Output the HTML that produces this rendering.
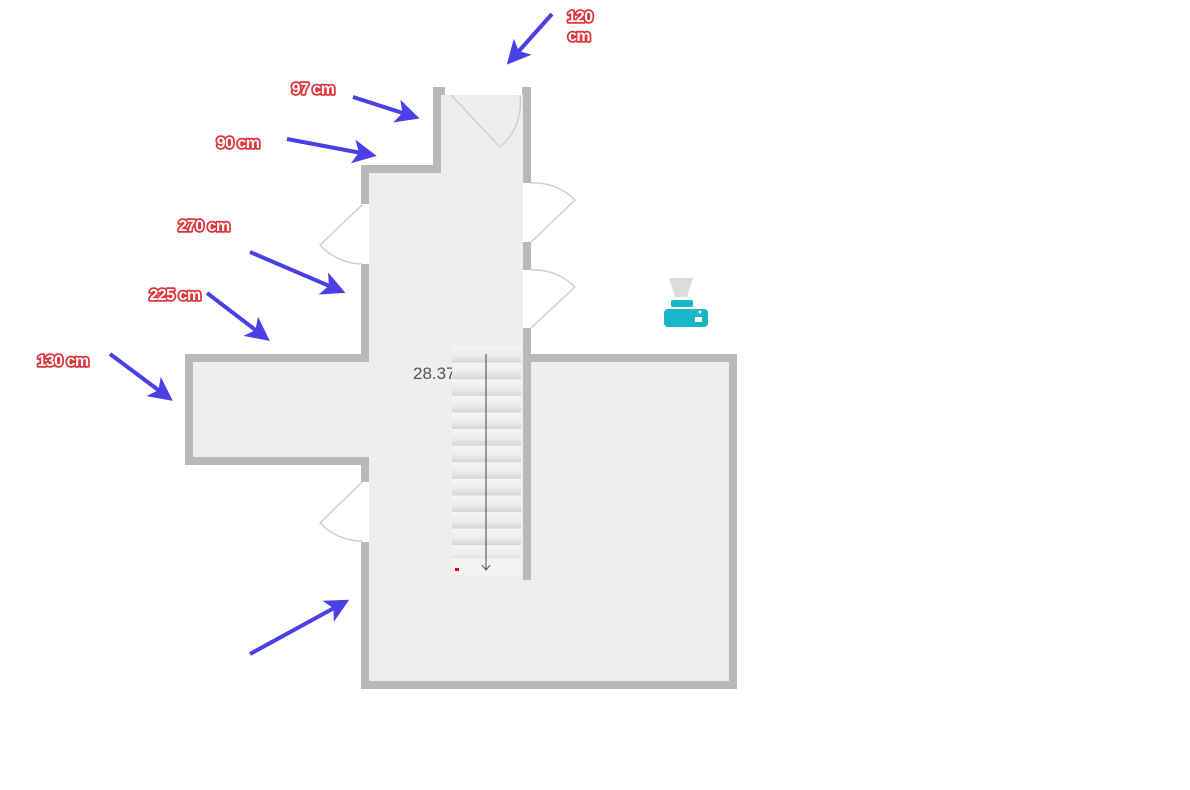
<!DOCTYPE html>
<html><head><meta charset="utf-8"><style>
html,body{margin:0;padding:0;background:#fff;width:1190px;height:790px;overflow:hidden}
svg{display:block}
.lbl{font-family:"Liberation Sans",sans-serif;font-weight:bold;font-size:16px;fill:#fff;stroke:#e0353a;stroke-width:3.5;paint-order:stroke;stroke-linejoin:round;text-anchor:middle;letter-spacing:-0.5px}
</style></head><body>
<svg width="1190" height="790" viewBox="0 0 1190 790">
<defs>
<linearGradient id="tr" x1="0" y1="0" x2="0" y2="1">
<stop offset="0" stop-color="#f6f6f6"/><stop offset="0.6" stop-color="#ebebeb"/><stop offset="1" stop-color="#d4d4d4"/>
</linearGradient>
<pattern id="st" x="452" y="346" width="69" height="16.6" patternUnits="userSpaceOnUse">
<rect width="69" height="16.6" fill="url(#tr)"/>
</pattern>
<marker id="ah" viewBox="0 0 10 10" refX="8" refY="5" markerWidth="6" markerHeight="6" orient="auto">
<path d="M0,0 L10,5 L0,10 L2.5,5 Z" fill="#4b3fe6"/>
</marker>
</defs>
<polygon points="437,91 527,91 527,358 733,358 733,685 365,685 365,461 189,461 189,358 365,358 365,169 437,169" fill="#eeeeee" stroke="#b9b9b9" stroke-width="8" stroke-linejoin="miter"/>
<line x1="527" y1="354" x2="527" y2="580" stroke="#b9b9b9" stroke-width="8"/>
<rect x="445" y="87" width="77" height="8" fill="#fff"/>
<rect x="361" y="204" width="8" height="60" fill="#fff"/>
<rect x="361" y="482" width="8" height="60" fill="#fff"/>
<rect x="523" y="183" width="8" height="59" fill="#fff"/>
<rect x="523" y="270" width="8" height="58" fill="#fff"/>
<g fill="none" stroke="#d0d0d0" stroke-width="1.5">
<path d="M451,95 L500,147 A58,58 0 0 0 520,95"/>
<path d="M362,205 L320,245 A58,58 0 0 0 362,264"/>
<path d="M362,482 L320,523 A58,58 0 0 0 362,541"/>
<path d="M531,183 A58,58 0 0 1 575,200 L531,242"/>
<path d="M531,270 A58,58 0 0 1 575,287 L531,328"/>
</g>
<text x="413" y="379" font-family="Liberation Sans,sans-serif" font-size="17" fill="#555">28.37</text>
<rect x="452" y="346" width="69" height="229" fill="url(#st)"/>
<rect x="452" y="558" width="69" height="17" fill="#f3f3f3"/>
<line x1="486" y1="354" x2="486" y2="569" stroke="#444" stroke-width="1"/>
<path d="M482,565 L486,570 L490,565" fill="none" stroke="#444" stroke-width="1"/>
<rect x="455" y="568" width="4" height="3" fill="#e00"/>
<polygon points="669,278 693,278 687,297 675,297" fill="#dcdcdc"/>
<rect x="671" y="300" width="22" height="7" rx="2" fill="#17b6c8"/>
<rect x="664" y="309" width="44" height="18" rx="4" fill="#17b6c8"/>
<rect x="695" y="317" width="7" height="5" fill="#fff"/>
<circle cx="700" cy="312" r="1.5" fill="#fff"/>
<g stroke="#4b3fe6" stroke-width="4" marker-end="url(#ah)">
<line x1="552" y1="14" x2="510" y2="61"/>
<line x1="353" y1="97" x2="415" y2="117"/>
<line x1="287" y1="139" x2="372" y2="155"/>
<line x1="250" y1="252" x2="341" y2="291"/>
<line x1="207" y1="293" x2="266" y2="338"/>
<line x1="110" y1="354" x2="169" y2="398"/>
<line x1="250" y1="654" x2="345" y2="602"/>
</g>
<text class="lbl" x="580" y="22">120</text>
<text class="lbl" x="579" y="41">cm</text>
<text class="lbl" x="313" y="94">97 cm</text>
<text class="lbl" x="238" y="148">90 cm</text>
<text class="lbl" x="204" y="231">270 cm</text>
<text class="lbl" x="175" y="300">225 cm</text>
<text class="lbl" x="63" y="366">130 cm</text>
</svg>
</body></html>
